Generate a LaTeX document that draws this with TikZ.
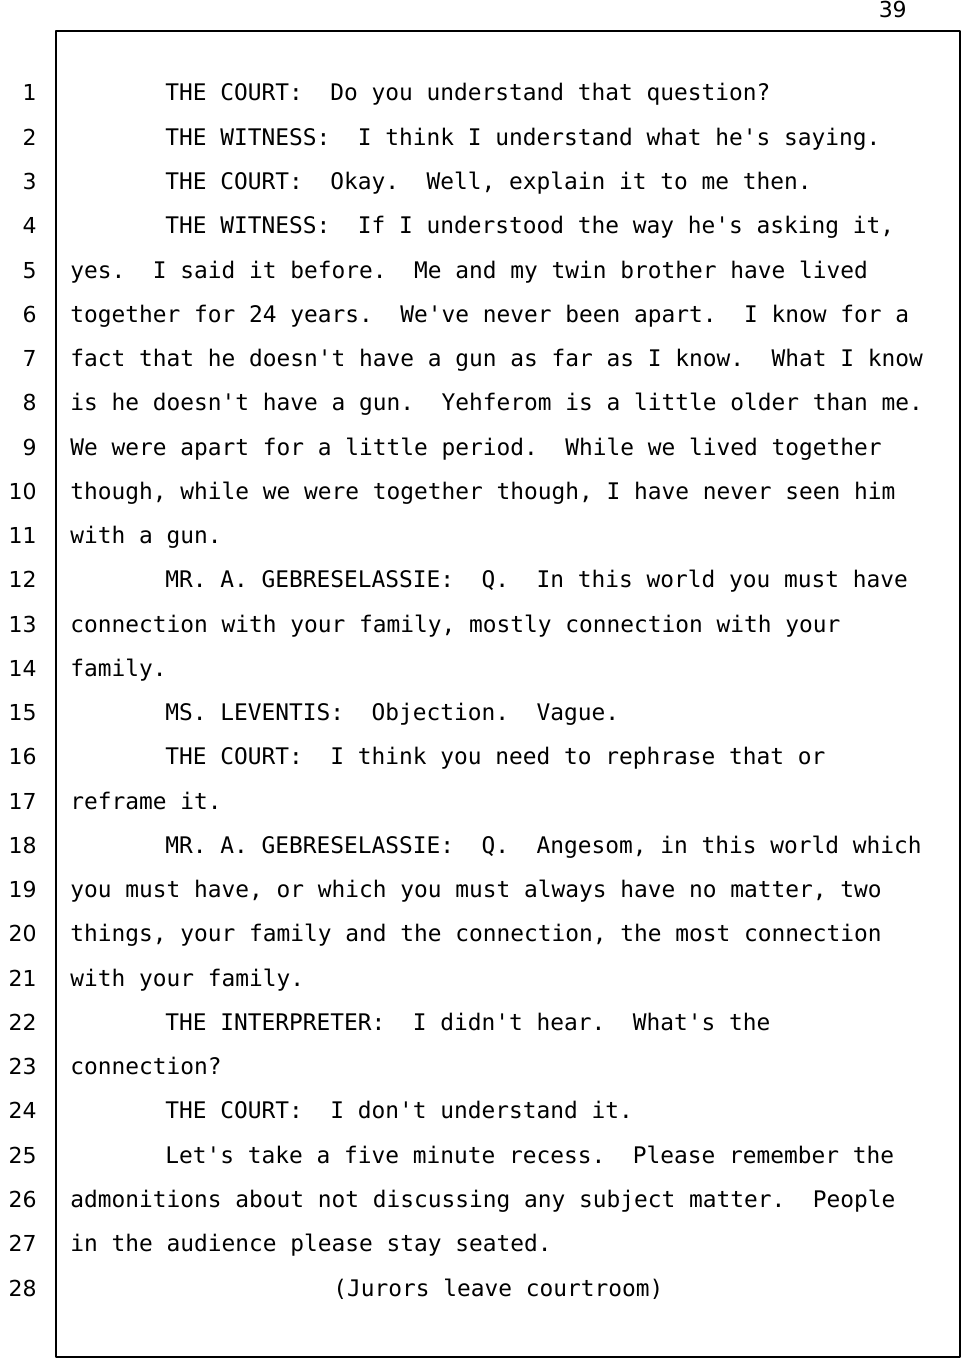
\documentclass[tikz,border=0pt]{standalone}
\usepackage{fontspec}
\setmonofont{DejaVu Sans Mono}
\setsansfont{DejaVu Sans}
\begin{document}
\begin{tikzpicture}[x=0.75pt,y=-0.75pt,line join=round,line cap=round,
	txt/.style={anchor=base west,inner sep=0pt,font=\fontsize{17.13}{20}\selectfont\ttfamily\frenchspacing},
	num/.style={anchor=base east,inner sep=0pt,font=\fontsize{16.5}{20}\selectfont\sffamily}]
	\useasboundingbox (0,0) rectangle (972,1366);
	% Khung trang va so trang
	\draw[line width=1.4pt] (56,31) rectangle (960,1357);
	\node[num] (page) at (907,18) {39};
	% So dong
	\foreach \i in {1,...,28}
	\node[num] (n\i) at (37,{101+(\i-1)*44.26}) {\i};
	% Noi dung tung dong
	\foreach \i/\x/\t in {
		1/165/{THE COURT:~ Do you understand that question?},
		2/165/{THE WITNESS:~ I think I understand what he's saying.},
		3/165/{THE COURT:~ Okay.~ Well, explain it to me then.},
		4/165/{THE WITNESS:~ If I understood the way he's asking it,},
		5/70/{yes.~ I said it before.~ Me and my twin brother have lived},
		6/70/{together for 24 years.~ We've never been apart.~ I know for a},
		7/70/{fact that he doesn't have a gun as far as I know.~ What I know},
		8/70/{is he doesn't have a gun.~ Yehferom is a little older than me.},
		9/70/{We were apart for a little period.~ While we lived together},
		10/70/{though, while we were together though, I have never seen him},
		11/70/{with a gun.},
		12/165/{MR. A. GEBRESELASSIE:~ Q.~ In this world you must have},
		13/70/{connection with your family, mostly connection with your},
		14/70/{family.},
		15/165/{MS. LEVENTIS:~ Objection.~ Vague.},
		16/165/{THE COURT:~ I think you need to rephrase that or},
		17/70/{reframe it.},
		18/165/{MR. A. GEBRESELASSIE:~ Q.~ Angesom, in this world which},
		19/70/{you must have, or which you must always have no matter, two},
		20/70/{things, your family and the connection, the most connection},
		21/70/{with your family.},
		22/165/{THE INTERPRETER:~ I didn't hear.~ What's the},
		23/70/{connection?},
		24/165/{THE COURT:~ I don't understand it.},
		25/165/{Let's take a five minute recess.~ Please remember the},
		26/70/{admonitions about not discussing any subject matter.~ People},
		27/70/{in the audience please stay seated.},
		28/333/{(Jurors leave courtroom)}}
	\node[txt] (l\i) at (\x,{101+(\i-1)*44.26}) {\t};
\end{tikzpicture}
\end{document}
